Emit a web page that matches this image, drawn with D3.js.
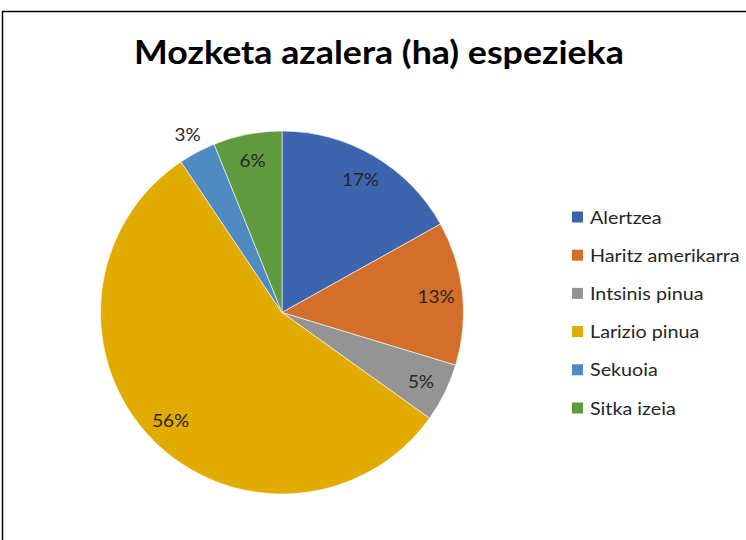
<!DOCTYPE html>
<html><head><meta charset="utf-8">
<script src="https://cdn.jsdelivr.net/npm/d3@7"></script>
<style>body{margin:0;background:#fff;}svg{display:block;}</style>
</head><body>
<svg id="c" width="746" height="540"></svg>
<script>
const title = "Mozketa azalera (ha) espezieka";
const categories = ["Alertzea", "Haritz amerikarra", "Intsinis pinua", "Larizio pinua", "Sekuoia", "Sitka izeia"];
const values = [16.9, 12.8, 5.2, 55.7, 3.3, 6.1];
const colors = ["#3D65AE", "#D46F2B", "#949494", "#E2AB00", "#4F8AC0", "#5F9A3F"];

const svg = d3.select("#c");
const font = "Lato, 'Open Sans', sans-serif";

function stretch(sel, k) {
  sel.each(function () {
    const w = this.getComputedTextLength();
    d3.select(this).attr("textLength", w * k).attr("lengthAdjust", "spacingAndGlyphs");
  });
}

svg.append("rect").attr("x", 2.5).attr("y", 11.5).attr("width", 760).attr("height", 560)
  .attr("fill", "none").attr("stroke", "#000").attr("stroke-width", 1.5);

const t = svg.append("text").attr("x", 379).attr("y", 64).attr("text-anchor", "middle")
  .style("font-family", font).style("font-weight", "bold").style("font-size", "32.5px")
  .attr("fill", "#000").text(title);
stretch(t, 1.1);

const cx = 282, cy = 312.5, r = 181.5;
const total = d3.sum(values);
const pie = d3.pie().sort(null).value(d => d)(values);
const arc = d3.arc().innerRadius(0).outerRadius(r);
const g = svg.append("g").attr("transform", `translate(${cx},${cy})`);
g.selectAll("path").data(pie).join("path")
  .attr("d", arc).attr("fill", (d, i) => colors[i])
  .attr("stroke", "#fff").attr("stroke-width", 0.6);

const lbl = g.selectAll("text.lbl").data(pie).join("text").attr("class", "lbl")
  .each(function (d) {
    const pct = (d.data / total) * 100;
    const lr = pct < 4 ? 202 : 155;
    const a = (d.startAngle + d.endAngle) / 2;
    d3.select(this).attr("x", lr * Math.sin(a)).attr("y", -lr * Math.cos(a))
      .text(Math.round(pct) + "%");
  })
  .attr("text-anchor", "middle").attr("dominant-baseline", "central")
  .style("font-family", font).style("font-size", "18px").attr("fill", "#262626");
stretch(lbl, 1.05);

const legend = svg.append("g");
const ly = d3.scalePoint().domain(categories).range([217, 408]);
const items = legend.selectAll("g").data(categories).join("g")
  .attr("transform", d => `translate(572,${ly(d)})`);
items.append("rect").attr("x", 0).attr("y", -5.5).attr("width", 11).attr("height", 11)
  .attr("fill", (d, i) => colors[i]);
const lt = items.append("text").attr("x", 18).attr("y", 0).attr("dominant-baseline", "central")
  .style("font-family", font).style("font-size", "17px").attr("fill", "#262626").text(d => d);
stretch(lt, 1.16);
</script>
</body></html>
